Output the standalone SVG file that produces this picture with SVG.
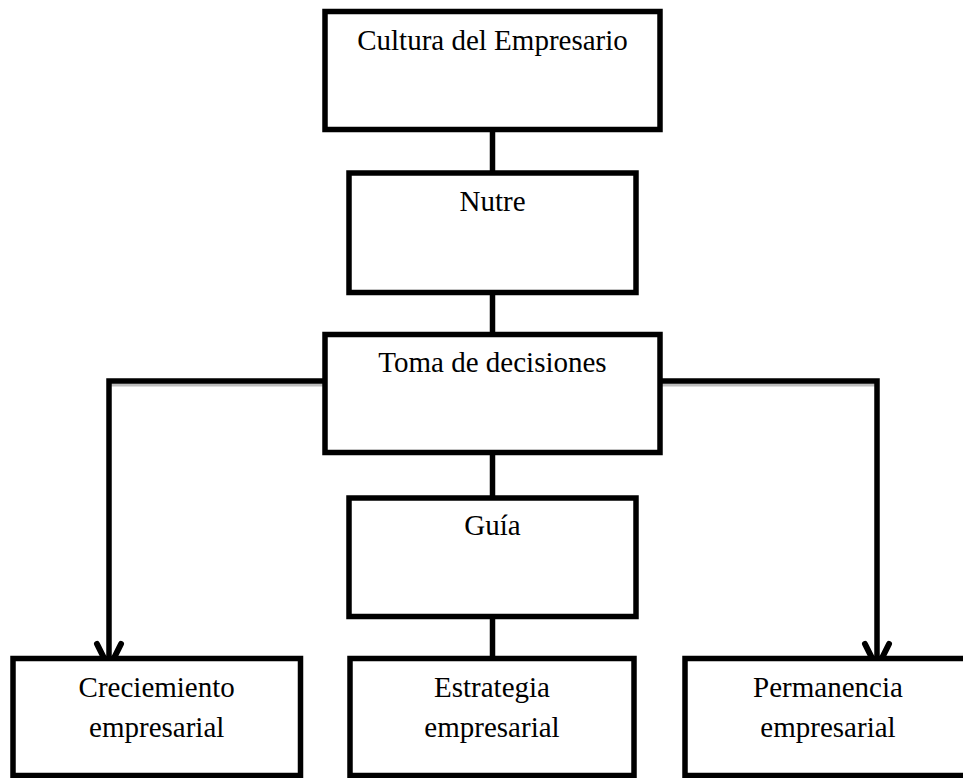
<svg xmlns="http://www.w3.org/2000/svg" width="963" height="778" viewBox="0 0 963 778">
<style>
.box{fill:#fff;stroke:#000;stroke-width:5.5}
.lbl{font-family:"Liberation Serif","Times New Roman",serif;font-size:29px;fill:#000;text-anchor:middle}
.con{fill:none;stroke:#000;stroke-width:5.5}
.shadow{fill:none;stroke:#bdbdbd;stroke-width:3}
</style>
<defs>
<marker id="arr" markerUnits="userSpaceOnUse" markerWidth="40" markerHeight="40" viewBox="-32 -20 40 40" refX="0" refY="0" orient="auto">
<path d="M-24,-12 L0,0 L-24,12" fill="none" stroke="#000" stroke-width="6" stroke-linejoin="miter" stroke-linecap="round"/>
</marker>
</defs>
<g id="connectors">
<line class="con" x1="492.5" y1="130" x2="492.5" y2="173"/>
<line class="con" x1="492.5" y1="292" x2="492.5" y2="334"/>
<line class="con" x1="492.5" y1="452" x2="492.5" y2="498"/>
<line class="con" x1="492.5" y1="616" x2="492.5" y2="658"/>
<line class="shadow" x1="110" y1="385" x2="325" y2="385"/>
<line class="shadow" x1="660" y1="385" x2="877" y2="385"/>
<path class="con" d="M325,381 H109 V668" marker-end="url(#arr)"/>
<path class="con" d="M660,381 H877 V668" marker-end="url(#arr)"/>
</g>
<g id="n1"><rect class="box" x="325" y="11.5" width="335" height="118"/><text class="lbl" x="492.5" y="50">Cultura del Empresario</text></g>
<g id="n2"><rect class="box" x="349" y="173" width="287" height="119.5"/><text class="lbl" x="492.5" y="211">Nutre</text></g>
<g id="n3"><rect class="box" x="325" y="334.5" width="335" height="118"/><text class="lbl" x="492.5" y="372">Toma de decisiones</text></g>
<g id="n4"><rect class="box" x="349" y="498" width="287" height="118.5"/><text class="lbl" x="492.5" y="535">Guía</text></g>
<g id="n5"><rect class="box" x="13" y="658.5" width="287.5" height="117"/><text class="lbl" x="156.7" y="697">Creciemiento</text><text class="lbl" x="156.7" y="737">empresarial</text></g>
<g id="n6"><rect class="box" x="350" y="658.5" width="284" height="117"/><text class="lbl" x="492" y="697">Estrategia</text><text class="lbl" x="492" y="737">empresarial</text></g>
<g id="n7"><rect class="box" x="685" y="658.5" width="287" height="117"/><text class="lbl" x="828" y="697">Permanencia</text><text class="lbl" x="828" y="737">empresarial</text></g>
</svg>
